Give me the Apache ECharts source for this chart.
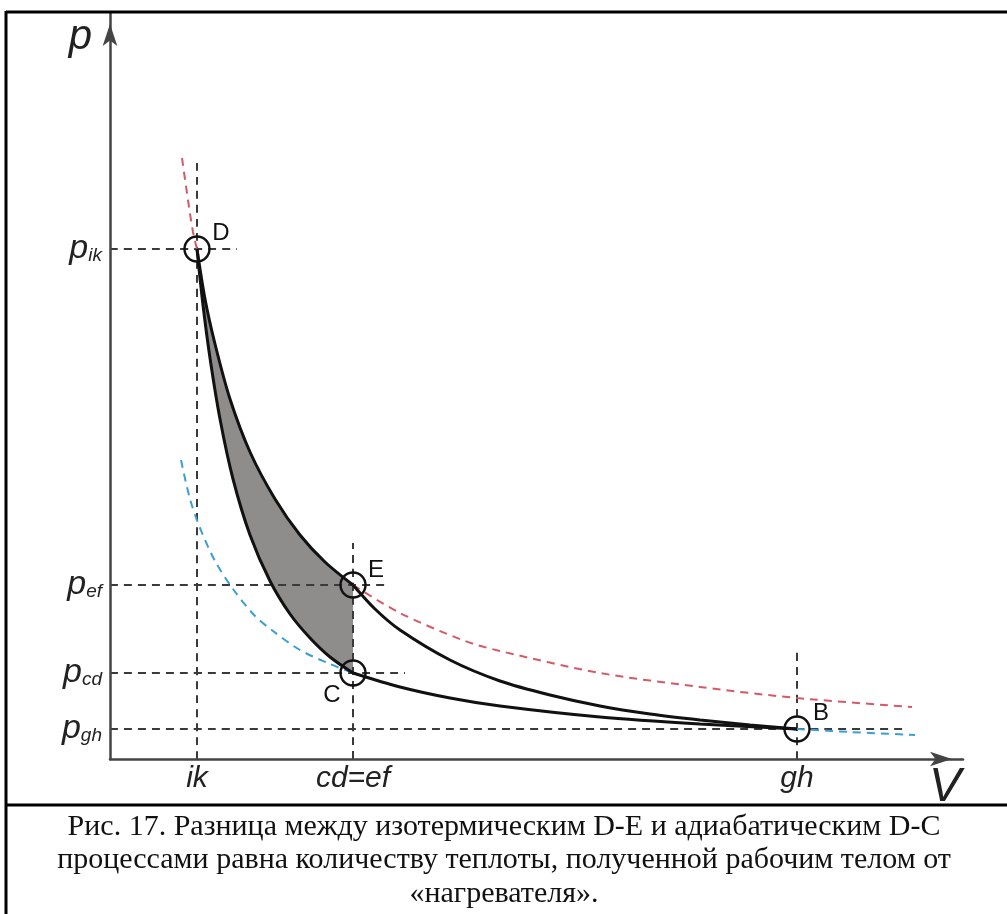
<!DOCTYPE html>
<html>
<head>
<meta charset="utf-8">
<script src="https://cdn.jsdelivr.net/npm/echarts@6/dist/echarts.min.js"></script>
<style>
    html, body { margin: 0; padding: 0; background: #fff; }
    #main { width: 1007px; height: 914px; }
</style>
</head>
<body>
<div id="main"></div>
<script>
// axis ticks (V and p, arbitrary units)
const V_TICKS = [8.7, 24.3, 68.7]
const V_TICK_LABELS = ['ik', 'cd=ef', 'gh']
const P_TICKS = [51.0, 17.4, 8.6, 3.0]
const P_TICK_SUBS = ['ik', 'ef', 'cd', 'gh']

// cycle curves [V, p]
const isothermDE = [[8.7, 51.0], [9.5, 46.0], [10.5, 41.5], [12.0, 36.0], [14.0, 30.7], [16.5, 26.0], [19.0, 22.4], [21.5, 19.7], [24.3, 17.4]]
const adiabatDC = [[8.7, 51.0], [9.3, 45.4], [10.0, 40.1], [11.0, 34.0], [12.3, 28.0], [14.0, 22.4], [16.0, 17.8], [18.0, 14.5], [20.0, 12.1], [22.0, 10.2], [24.3, 8.6]]
const adiabatEB = [[24.3, 17.4], [26.5, 15.0], [29.0, 12.9], [34.0, 9.9], [39.0, 7.8], [44.0, 6.4], [49.0, 5.3], [54.0, 4.5], [59.0, 3.9], [64.0, 3.4], [68.7, 3.0]]
const isothermCB = [[24.3, 8.6], [29.0, 7.2], [34.0, 6.1], [39.0, 5.3], [49.0, 4.2], [59.0, 3.5], [68.7, 3.0]]

// dashed continuations
const hotUpper = [[7.2, 60.1], [7.8, 55.9], [8.3, 52.7], [8.7, 51.0]]
const hotLower = [[24.3, 17.4], [29.0, 14.6], [35.5, 11.8], [39.0, 10.8], [49.0, 8.6], [59.0, 7.2], [68.7, 6.1], [80.2, 5.2]]
const coldUpper = [[7.1, 29.9], [8.0, 26.0], [9.0, 23.1], [10.5, 19.8], [12.3, 17.0], [14.5, 14.3], [16.3, 12.8], [19.0, 10.9], [22.0, 9.5], [24.3, 8.6]]
const coldLower = [[68.7, 3.0], [74.0, 2.7], [80.5, 2.4]]

// guide lines
const guides = [
    [[8.7, 0], [8.7, 59.7]],
    [[0, 51.0], [12.7, 51.0]],
    [[24.3, 0], [24.3, 21.6]],
    [[0, 17.4], [28.0, 17.4]],
    [[0, 8.6], [29.5, 8.6]],
    [[0, 3.0], [79.5, 3.0]],
    [[68.7, 0], [68.7, 10.9]]
]

// state points
const pointNames = ['D', 'E', 'C', 'B']
const pointValues = [[8.7, 51.0], [24.3, 17.4], [24.3, 8.6], [68.7, 3.0]]
const pointLabelOffsets = [[24, -16], [23, -15], [-21, 22], [24, -16]]

const captionLines = [
    'Рис. 17. Разница между изотермическим D-E и адиабатическим D-C',
    'процессами равна количеству теплоты, полученной рабочим телом от',
    '«нагревателя».'
]

const SANS = 'Liberation Sans, Arial, sans-serif'
const SERIF = 'Liberation Serif, Times New Roman, serif'

function nearestIndex(arr, v) {
    let best = 0
    for (let i = 1; i < arr.length; i++) {
        if (Math.abs(arr[i] - v) < Math.abs(arr[best] - v)) best = i
    }
    return best
}

function curve(data, color, width, dashed, z) {
    return {
        type: 'line',
        data: data,
        smooth: 0.3,
        showSymbol: false,
        silent: true,
        z: z,
        lineStyle: { color: color, width: width, type: dashed ? [8, 6] : 'solid' }
    }
}

const chart = echarts.init(document.getElementById('main'), null, { renderer: 'canvas' })

const series = []

// gray area between isotherm and adiabat: gray under isotherm, white under adiabat
series.push({
    type: 'line', data: isothermDE, smooth: 0.3, showSymbol: false, silent: true, z: 1,
    lineStyle: { width: 0 },
    areaStyle: { color: '#8f8c8c', opacity: 1, origin: 'start' }
})
series.push({
    type: 'line', data: adiabatDC, smooth: 0.3, showSymbol: false, silent: true, z: 2,
    lineStyle: { width: 0 },
    areaStyle: { color: '#ffffff', opacity: 1, origin: 'start' }
})

guides.forEach(g => series.push(curve(g, '#3a3a3a', 2, true, 3)))

series.push(curve(hotUpper, '#d45a66', 2, true, 4))
series.push(curve(hotLower, '#d45a66', 2, true, 4))
series.push(curve(coldUpper, '#3a9fd3', 2, true, 4))
series.push(curve(coldLower, '#3a9fd3', 2, true, 4))

series.push(curve(isothermDE, '#111', 3, false, 5))
series.push(curve(adiabatDC, '#111', 3, false, 5))
series.push(curve(adiabatEB, '#111', 3, false, 5))
series.push(curve(isothermCB, '#111', 3, false, 5))

series.push({
    type: 'scatter',
    silent: true,
    z: 6,
    symbol: 'circle',
    symbolSize: 25,
    itemStyle: { color: 'rgba(0,0,0,0)', borderColor: '#111', borderWidth: 2.4, opacity: 1 },
    data: pointValues.map((v, i) => ({
        value: v,
        label: {
            show: true,
            formatter: pointNames[i],
            position: 'inside',
            offset: pointLabelOffsets[i],
            fontFamily: SANS,
            fontSize: 24,
            color: '#111'
        }
    }))
})

const option = {
    backgroundColor: '#fff',
    animation: false,
    grid: { left: 110, top: 13, width: 853, height: 746, containLabel: false },
    xAxis: {
        type: 'value',
        min: 0,
        max: 85.3,
        z: 10,
        axisLine: {
            show: true,
            symbol: ['none', 'arrow'],
            symbolSize: [11, 22],
            symbolOffset: [0, -11],
            lineStyle: { color: '#444', width: 2.5 }
        },
        axisTick: { show: false },
        splitLine: { show: false },
        axisLabel: {
            customValues: V_TICKS,
            margin: 5,
            fontFamily: SANS,
            fontStyle: 'italic',
            fontSize: 30,
            color: '#222',
            formatter: v => V_TICK_LABELS[nearestIndex(V_TICKS, v)]
        },
        name: 'V',
        nameLocation: 'end',
        nameGap: -2,
        nameTextStyle: {
            fontFamily: SANS, fontStyle: 'italic', fontSize: 48, color: '#222',
            align: 'right', verticalAlign: 'top', padding: [5, 0, 0, 0]
        }
    },
    yAxis: {
        type: 'value',
        min: 0,
        max: 74.6,
        z: 10,
        axisLine: {
            show: true,
            symbol: ['none', 'arrow'],
            symbolSize: [11, 22],
            symbolOffset: [0, -11],
            lineStyle: { color: '#444', width: 2.5 }
        },
        axisTick: { show: false },
        splitLine: { show: false },
        axisLabel: {
            customValues: P_TICKS,
            margin: 8,
            formatter: v => '{p|p}{s|' + P_TICK_SUBS[nearestIndex(P_TICKS, v)] + '}',
            rich: {
                p: { fontFamily: SANS, fontStyle: 'italic', fontSize: 34, color: '#222' },
                s: { fontFamily: SANS, fontStyle: 'italic', fontSize: 19, color: '#222', padding: [14, 0, 0, 0] }
            }
        },
        name: 'p',
        nameLocation: 'end',
        nameGap: -3,
        nameTextStyle: {
            fontFamily: SANS, fontStyle: 'italic', fontSize: 42, color: '#222',
            align: 'right', verticalAlign: 'top', padding: [0, 18, 0, 0]
        }
    },
    graphic: [
        { type: 'line', shape: { x1: 6, y1: 12, x2: 1007, y2: 12 }, style: { stroke: '#000', lineWidth: 3 }, z: 20 },
        { type: 'line', shape: { x1: 6, y1: 11, x2: 6, y2: 914 }, style: { stroke: '#000', lineWidth: 3 }, z: 20 },
        { type: 'line', shape: { x1: 6, y1: 805, x2: 1007, y2: 805 }, style: { stroke: '#000', lineWidth: 3 }, z: 20 },
        {
            type: 'text',
            x: 504,
            y: 810,
            z: 20,
            style: {
                text: captionLines.join('\n'),
                align: 'center',
                verticalAlign: 'top',
                fontFamily: SERIF,
                fontSize: 30,
                lineHeight: 33.5,
                fill: '#111'
            }
        }
    ],
    series: series
}

chart.setOption(option)
</script>
</body>
</html>
